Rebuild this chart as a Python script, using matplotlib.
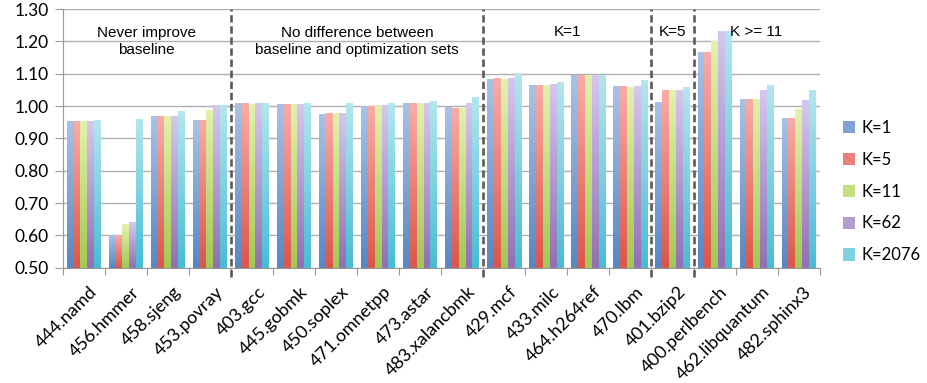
import numpy as np
import matplotlib
matplotlib.use('Agg')
import matplotlib.pyplot as plt
from matplotlib.patches import Patch
from matplotlib.colors import to_rgb
import matplotlib.transforms as mtransforms

benchmarks = ['444.namd', '456.hmmer', '458.sjeng', '453.povray', '403.gcc', '445.gobmk',
              '450.soplex', '471.omnetpp', '473.astar', '483.xalancbmk', '429.mcf', '433.milc',
              '464.h264ref', '470.lbm', '401.bzip2', '400.perlbench', '462.libquantum', '482.sphinx3']
series = ['K=1', 'K=5', 'K=11', 'K=62', 'K=2076']

k1    = [0.954, 0.599, 0.969, 0.957, 1.008, 1.006, 0.976, 1.000, 1.009, 0.995, 1.083, 1.065, 1.096, 1.062, 1.012, 1.165, 1.022, 0.963]
k5    = [0.954, 0.600, 0.969, 0.957, 1.010, 1.006, 0.978, 1.000, 1.009, 0.994, 1.087, 1.065, 1.096, 1.062, 1.049, 1.165, 1.022, 0.963]
k11   = [0.954, 0.635, 0.969, 0.988, 1.007, 1.006, 0.978, 1.001, 1.009, 0.994, 1.083, 1.065, 1.096, 1.059, 1.049, 1.200, 1.022, 0.989]
k62   = [0.954, 0.642, 0.969, 1.002, 1.009, 1.006, 0.978, 1.002, 1.009, 1.009, 1.087, 1.068, 1.096, 1.062, 1.049, 1.232, 1.049, 1.019]
k2076 = [0.957, 0.960, 0.985, 1.002, 1.009, 1.009, 1.009, 1.009, 1.015, 1.026, 1.102, 1.074, 1.096, 1.080, 1.059, 1.232, 1.065, 1.049]
values = [k1, k5, k11, k62, k2076]

# group separators (between categories) and group captions
separators = [3.5, 9.5, 13.5, 14.5]
captions = ['Never improve\nbaseline', 'No difference between\nbaseline and optimization sets',
            'K=1', 'K=5', 'K >= 11']
caption_x = [1.5, 6.5, 11.5, 14.0, 16.0]
caption_y = [1.20, 1.20, 1.23, 1.23, 1.23]

# light (top) / dark (bottom) gradient ends per series
tops = ['#a9c1e7', '#faaba6', '#e3f1ab', '#d4c7ed', '#b3e6ee']
bottoms = ['#5787c4', '#db564a', '#a3c852', '#9170b3', '#48bcd5']
mids = ['#7fa3d6', '#ec7f77', '#c4de80', '#b39cd2', '#7fd2e2']

fig = plt.figure(figsize=(9.28, 3.83), dpi=100)
ax = fig.add_axes([62.7 / 928, 115.3 / 383, 757 / 928, 258.7 / 383])

ymin, ymax = 0.5, 1.3
bw = 0.162
x = np.arange(len(benchmarks))
for i, vals in enumerate(values):
    grad = np.linspace(0, 1, 64)[:, None, None]
    c0 = np.array(to_rgb(bottoms[i]))
    c1 = np.array(to_rgb(tops[i]))
    img = c0 + (c1 - c0) * grad
    for j, v in enumerate(vals):
        xc = x[j] + (i - 2) * bw
        ax.imshow(img, extent=[xc - bw / 2, xc + bw / 2, ymin, v], origin='lower',
                  aspect='auto', zorder=2, interpolation='bilinear')

ax.set_xlim(-0.5, len(benchmarks) - 0.5)
ax.set_ylim(ymin, ymax)
ax.set_yticks(np.arange(0.5, 1.31, 0.1))
ax.set_yticklabels(['%.2f' % t for t in np.arange(0.5, 1.31, 0.1)], fontfamily='Lato', fontsize=12.5)
ax.yaxis.grid(True, color='#b0b0b0', linewidth=1.0, zorder=0)
ax.set_axisbelow(True)
ax.tick_params(axis='y', length=6, color='#999999', pad=4)

ax.set_xticks(np.arange(-0.5, len(benchmarks), 1.0))
ax.set_xticklabels([])
ax.tick_params(axis='x', length=5, color='#999999')

off = mtransforms.offset_copy(ax.transData, fig=fig, x=5, y=-16, units='dots')
for j, name in enumerate(benchmarks):
    ax.text(x[j], ymin, name, transform=off, rotation=45, ha='right', va='top',
            rotation_mode='anchor', fontfamily='Lato', fontsize=13)

for s in ['top', 'right']:
    ax.spines[s].set_visible(False)
for s in ['left', 'bottom']:
    ax.spines[s].set_color('#999999')

for sx in separators:
    ax.plot([sx, sx], [0.471, ymax], color='#5a5a5a', linewidth=1.9,
            dashes=(2.8, 1.4), clip_on=False, zorder=4)

for t, cx, cy in zip(captions, caption_x, caption_y):
    ax.text(cx, cy, t, ha='center', va='center', fontfamily='Liberation Sans',
            fontsize=11, linespacing=1.3, zorder=5)

handles = [Patch(facecolor=mids[i], edgecolor='none', label=series[i]) for i in range(len(series))]
fig.legend(handles=handles, loc='upper left', bbox_to_anchor=(843 / 928, 1 - 120 / 383),
           frameon=False, prop={'family': 'Lato', 'size': 12}, handlelength=0.75,
           handleheight=0.75, handletextpad=0.35, labelspacing=0.95, borderpad=0, borderaxespad=0)

fig.savefig('out.png', dpi=100)
